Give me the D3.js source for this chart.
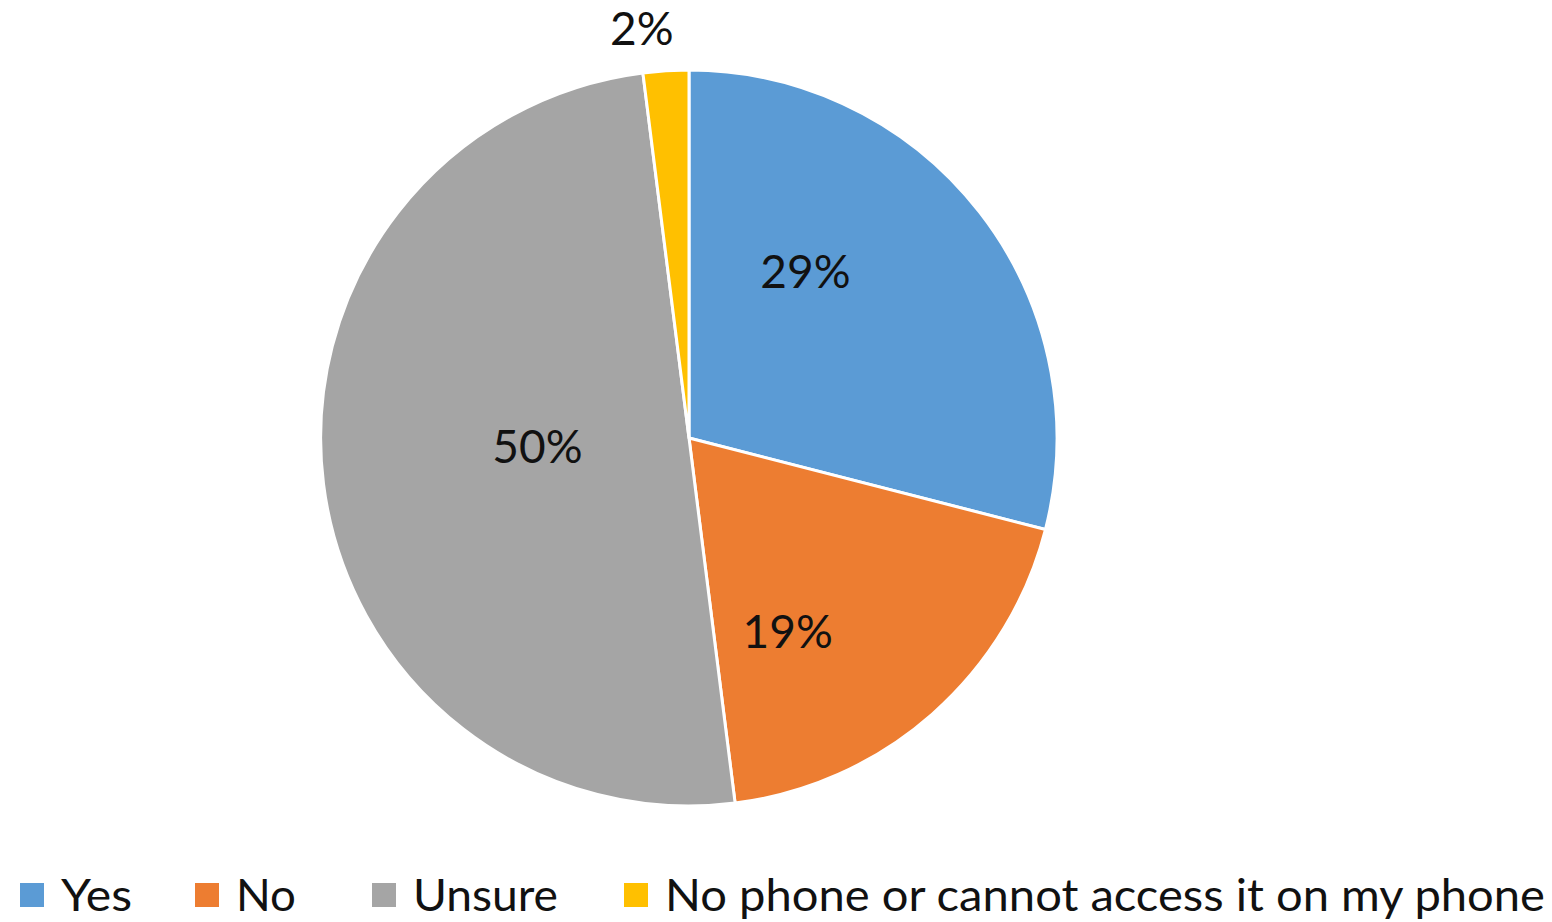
<!DOCTYPE html>
<html>
<head>
<meta charset="utf-8">
<script src="https://cdn.jsdelivr.net/npm/d3@7"></script>
<style>
  body { margin: 0; background: #fff; }
  text { font-family: Lato, "Open Sans", sans-serif; font-weight: 400; fill: #111; }
</style>
</head>
<body>
<div id="chart"></div>
<script>
// data
const categories = ["Yes", "No", "Unsure", "No phone or cannot access it on my phone"];
const values = [29, 19, 50, 2];
const colors = ["#5B9BD5", "#ED7D31", "#A5A5A5", "#FFC000"];
// label nudges relative to the slice centroid (Excel "best fit" placement)
const labelNudge = [[-29, -55], [-23, 54], [31, -16], [4, -6]];

const width = 1552, height = 922;
const cx = 689, cy = 438, radius = 368;

const svg = d3.select("#chart")
  .append("svg")
  .attr("width", width)
  .attr("height", height);

const pie = d3.pie().sort(null).value(d => d);
const arcs = pie(values);

const arc = d3.arc().innerRadius(0).outerRadius(radius);
const labelArc = d3.arc().innerRadius(0).outerRadius(radius);

const g = svg.append("g").attr("transform", `translate(${cx},${cy})`);

g.selectAll("path")
  .data(arcs)
  .join("path")
  .attr("d", arc)
  .attr("fill", (d, i) => colors[i])
  .attr("stroke", "#fff")
  .attr("stroke-width", 3)
  .attr("stroke-linejoin", "round");

g.selectAll("text.lbl")
  .data(arcs)
  .join("text")
  .attr("class", "lbl")
  .attr("transform", (d, i) => {
    // small slices get their label outside the pie
    let [x, y] = labelArc.centroid(d);
    if (d.value < 5) x = Math.sin(d.startAngle) * (radius + 40), y = -Math.cos(d.startAngle) * (radius + 40);
    return `translate(${x + labelNudge[i][0]},${y + labelNudge[i][1]})`;
  })
  .attr("text-anchor", "middle")
  .attr("dominant-baseline", "central")
  .attr("font-size", 46)
  .text(d => d.value + "%");

// legend
const legendX = [20, 195, 372, 624];
const legendW = [71, 60, 145, 880];
const legend = svg.append("g").attr("transform", `translate(0,894)`);

const item = legend.selectAll("g")
  .data(categories)
  .join("g")
  .attr("transform", (d, i) => `translate(${legendX[i]},0)`);

item.append("rect")
  .attr("x", 0)
  .attr("y", -11)
  .attr("width", 24)
  .attr("height", 24)
  .attr("fill", (d, i) => colors[i]);

item.append("text")
  .attr("x", 41)
  .attr("y", 0)
  .attr("dominant-baseline", "central")
  .attr("font-size", 45)
  .attr("textLength", (d, i) => legendW[i])
  .attr("lengthAdjust", "spacingAndGlyphs")
  .text(d => d);
</script>
</body>
</html>
